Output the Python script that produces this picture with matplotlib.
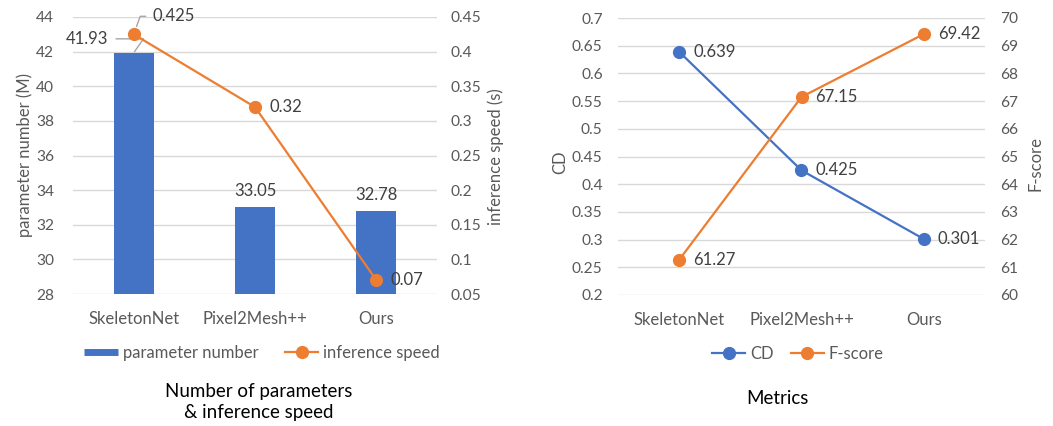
import matplotlib
matplotlib.use("Agg")
import matplotlib.pyplot as plt
from matplotlib.lines import Line2D

plt.rcParams['font.family'] = ['Lato', 'DejaVu Sans']

categories = ["SkeletonNet", "Pixel2Mesh++", "Ours"]
param_number = [41.93, 33.05, 32.78]
inference_speed = [0.425, 0.32, 0.07]
cd_values = [0.639, 0.425, 0.301]
fscore_values = [61.27, 67.15, 69.42]

BLUE = "#4472C4"
ORANGE = "#ED7D31"
GRAY = "#595959"
GRID = "#D9D9D9"
FS = 12
TFS = 11.2

W, H = 1053, 426
fig = plt.figure(figsize=(W / 100, H / 100), dpi=100)

def px_axes(left, top, right, bottom):
    return fig.add_axes([left / W, 1 - bottom / H, (right - left) / W, (bottom - top) / H])

def style(ax):
    for s in ax.spines.values():
        s.set_visible(False)
    ax.tick_params(length=0, colors=GRAY, labelsize=TFS)

def ylabel(xp, yp, text):
    fig.text(xp / W, 1 - yp / H, text, rotation=90, ha='center', va='center',
             color=GRAY, fontsize=12)

x = list(range(len(categories)))

# ---------- left chart ----------
ax1 = px_axes(73, 17, 437, 294)
ax1.bar(x, param_number, width=0.33, color=BLUE, zorder=2)
ax1.set_ylim(28, 44)
ax1.set_yticks(range(28, 45, 2))
ax1.set_xlim(-0.5, 2.5)
ax1.set_xticks(x)
ax1.set_xticklabels(categories)
ax1.yaxis.grid(True, color=GRID, linewidth=1, zorder=0)
ax1.set_axisbelow(True)
style(ax1)
ax1.tick_params(axis='x', pad=12, labelsize=12)
ax1.tick_params(axis='y', pad=13.5)
ylabel(25, 155, "parameter number (M)")

ax2 = ax1.twinx()
ax2.plot(x, inference_speed, color=ORANGE, marker='o', markersize=8.5, linewidth=1.6, zorder=3)
ax2.set_ylim(0.05, 0.45)
ax2.set_yticks([0.05, 0.1, 0.15, 0.2, 0.25, 0.3, 0.35, 0.4, 0.45])
ax2.set_yticklabels(["0.05", "0.1", "0.15", "0.2", "0.25", "0.3", "0.35", "0.4", "0.45"])
style(ax2)
ax2.tick_params(axis='y', pad=10)
ylabel(496, 157, "inference speed (s)")

lab_kw = dict(color="#404040", fontsize=FS, textcoords='offset pixels')
# bar labels
ax1.annotate(f"{param_number[0]:.2f}", (x[0], param_number[0]), xytext=(-26, 14),
             ha='right', va='center',
             arrowprops=dict(arrowstyle='-', color="#A6A6A6", lw=1,
                             connectionstyle="angle,angleA=0,angleB=-125,rad=0",
                             shrinkA=4, shrinkB=1),
             **lab_kw)
for i in (1, 2):
    ax1.annotate(f"{param_number[i]:.2f}", (x[i], param_number[i]), xytext=(0, 8),
                 ha='center', va='bottom', **lab_kw)
# line labels
ax2.annotate(f"{inference_speed[0]}", (x[0], inference_speed[0]), xytext=(19, 18),
             ha='left', va='center',
             arrowprops=dict(arrowstyle='-', color="#A6A6A6", lw=1,
                             connectionstyle="angle,angleA=0,angleB=70,rad=0",
                             shrinkA=3, shrinkB=6),
             **lab_kw)
for i in (1, 2):
    ax2.annotate(f"{inference_speed[i]}", (x[i], inference_speed[i]), xytext=(14, 0),
                 ha='left', va='center', **lab_kw)

h1 = [Line2D([], [], color=BLUE, lw=5, solid_capstyle='butt', label="parameter number"),
      Line2D([], [], color=ORANGE, marker='o', markersize=8.5, lw=1.6, label="inference speed")]
leg1 = fig.legend(handles=h1, loc='center', bbox_to_anchor=(262 / W, 1 - 353 / H), ncol=2,
                  frameon=False, fontsize=12, handlelength=2.0, columnspacing=1.6,
                  handletextpad=0.3)
for t in leg1.get_texts():
    t.set_color(GRAY)
fig.text(259 / W, 1 - 402 / H, "Number of parameters\n& inference speed", ha='center',
         va='center', fontsize=13.5, color="#000000", linespacing=1.25)

# ---------- right chart ----------
ax3 = px_axes(618, 18, 985, 295)
ax3.plot(x, cd_values, color=BLUE, marker='o', markersize=8.5, linewidth=1.6, zorder=3)
ax3.set_ylim(0.2, 0.7)
ax3.set_yticks([0.2, 0.25, 0.3, 0.35, 0.4, 0.45, 0.5, 0.55, 0.6, 0.65, 0.7])
ax3.set_yticklabels(["0.2", "0.25", "0.3", "0.35", "0.4", "0.45", "0.5", "0.55", "0.6", "0.65", "0.7"])
ax3.set_xlim(-0.5, 2.5)
ax3.set_xticks(x)
ax3.set_xticklabels(categories)
ax3.yaxis.grid(True, color=GRID, linewidth=1, zorder=0)
ax3.set_axisbelow(True)
style(ax3)
ax3.tick_params(axis='x', pad=12, labelsize=12)
ax3.tick_params(axis='y', pad=11)
ylabel(560, 162, "CD")

ax4 = ax3.twinx()
ax4.plot(x, fscore_values, color=ORANGE, marker='o', markersize=8.5, linewidth=1.6, zorder=3)
ax4.set_ylim(60, 70)
ax4.set_yticks(range(60, 71))
style(ax4)
ax4.tick_params(axis='y', pad=11)
ylabel(1035, 163, "F-score")

for i in x:
    ax3.annotate(f"{cd_values[i]}", (x[i], cd_values[i]), xytext=(14, 0),
                 ha='left', va='center', **lab_kw)
    ax4.annotate(f"{fscore_values[i]:.2f}", (x[i], fscore_values[i]), xytext=(14, 0),
                 ha='left', va='center', **lab_kw)

h2 = [Line2D([], [], color=BLUE, marker='o', markersize=8.5, lw=1.6, label="CD"),
      Line2D([], [], color=ORANGE, marker='o', markersize=8.5, lw=1.6, label="F-score")]
leg2 = fig.legend(handles=h2, loc='center', bbox_to_anchor=(798 / W, 1 - 354 / H), ncol=2,
                  frameon=False, fontsize=12, handlelength=2.0, columnspacing=1.0,
                  handletextpad=0.3)
for t in leg2.get_texts():
    t.set_color(GRAY)
fig.text(777 / W, 1 - 398 / H, "Metrics", ha='center', va='center', fontsize=13.5, color="#000000")

fig.savefig("out.png", dpi=100)
